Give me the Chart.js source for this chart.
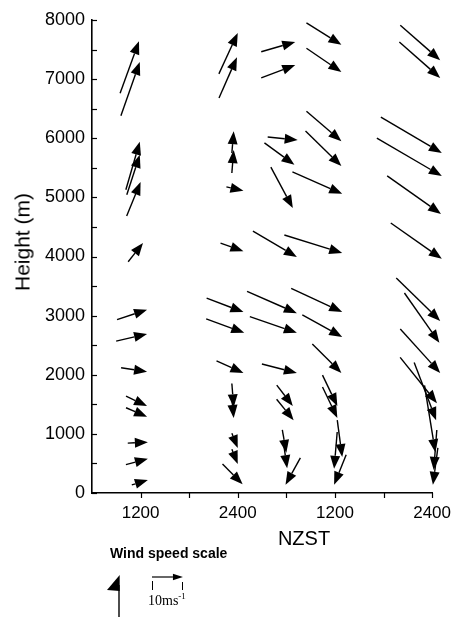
<!DOCTYPE html>
<html>
<head>
<meta charset="utf-8">
<script src="https://cdn.jsdelivr.net/npm/chart.js@4"></script>
<style>
  body { margin: 0; background: #fff; }
  #wrap { position: relative; width: 461px; height: 617px; }
  .lbl { position: absolute; font-family: 'Liberation Sans', Arial, sans-serif; color: #000; line-height: 1; white-space: nowrap; }
</style>
</head>
<body>
<div id="wrap">
  <canvas id="windChart"></canvas>
  <div class="lbl" style="left:22px;top:242px;font-size:21px;transform:translate(-50%,-50%) rotate(-90deg);">Height (m)</div>
  <div class="lbl" style="left:304px;top:538px;font-size:20px;transform:translate(-50%,-50%);">NZST</div>
  <div class="lbl" style="left:110px;top:546px;font-size:14px;font-weight:bold;">Wind speed scale</div>
  <div class="lbl" style="left:148px;top:594px;font-size:14px;font-family:'Liberation Serif',serif;">10ms<span style="font-size:9px;position:relative;top:-6px;">-1</span></div>
</div>
<script>
// time axis is hours from the start of day 1 (NZST)
const tickHours = [12, 24, 36, 48];
const tickLabels = ['1200', '2400', '1200', '2400'];

// arrow tip position: time (h) and height (m), one entry per sounding level
const tipTime = [
    11.8, 11.9, 11.9, 11.9, 12.0, 12.3, 12.8, 12.8, 12.8, 12.8, 12.8, 12.9, 12.9, 12.9,
    24.0, 23.9, 23.5, 23.5, 24.7, 24.7, 24.7, 24.8, 24.7, 23.5, 23.5, 24.0, 24.0, 24.6,
    31.1, 31.1, 31.4, 31.0, 30.8, 31.3, 31.3, 31.3, 31.3, 30.8, 30.9, 30.0, 30.1, 29.9,
    36.8, 36.8, 36.8, 36.8, 36.9, 36.9, 36.9, 36.9, 36.8, 36.3, 36.3, 36.9, 35.9, 35.9,
    49.0, 49.0, 49.2, 49.2, 49.1, 49.2, 49.0, 48.9, 49.0, 48.6, 48.5, 48.4, 48.2, 48.1
];
const tipHeight = [
    7640, 7290, 5940, 5720, 5260, 4230, 3100, 2690, 2050, 1470, 1290, 860, 580, 220,
    7780, 7370, 6120, 5800, 5110, 4090, 3060, 2710, 2030, 1450, 1270, 760, 490, 150,
    7630, 7240, 5970, 5550, 4820, 3990, 3040, 2710, 2030, 1470, 1230, 680, 420, 140,
    7580, 7120, 5950, 5530, 5060, 4060, 3060, 2640, 2030, 1470, 1270, 610, 410, 140,
    7320, 7020, 5750, 5360, 4720, 3960, 2910, 2540, 2030, 1520, 1230, 690, 390, 140
];
// wind components (m/s), u towards east (right), v towards north (up)
const windU = [
    6.1, 6.1, 4.5, 4.2, 4.5, 4.8, 9.7, 10.0, 8.4, 6.8, 6.8, 6.5, 7.1, 5.2,
    6.1, 5.8, 0.6, 0.6, 5.5, 7.4, 11.9, 12.3, 8.7, 0.6, 0.6, 1.9, 1.9, 6.5,
    11.0, 11.0, 9.7, 9.7, 7.1, 14.2, 16.1, 15.2, 11.3, 5.2, 5.5, 1.3, 1.3, -4.8,
    11.3, 11.3, 11.3, 11.6, 16.1, 18.7, 16.5, 12.9, 9.4, 4.8, 4.8, 1.6, -1.0, -3.9,
    12.9, 13.2, 19.7, 21.0, 17.4, 16.5, 14.2, 11.3, 12.9, 11.9, 7.1, 3.5, -1.0, -1.6
];
const windV = [
    16.8, 17.4, 15.5, 12.9, 11.0, 6.1, 3.2, 2.3, -1.3, -3.2, -2.9, 0.3, 1.9, 1.6,
    13.2, 13.2, 7.1, 7.4, -1.3, -2.6, -4.5, -4.5, -3.9, -7.7, -6.5, -4.8, -4.8, -6.5,
    3.2, 4.2, -1.0, -7.1, -13.2, -8.4, -7.1, -5.2, -2.9, -6.8, -6.8, -7.4, -9.0, -8.7,
    -7.1, -7.7, -9.7, -11.3, -7.1, -5.8, -7.7, -7.1, -9.4, -10.0, -10.0, -11.9, -11.9, -9.7,
    -11.3, -11.6, -11.6, -12.3, -12.3, -11.6, -13.9, -16.1, -14.2, -14.8, -18.7, -21.6, -12.9, -11.9
];

// 10 m/s is drawn as long as 3.82 h of the time axis
const SCALE_SPEED = 10;
const SCALE_HOURS = 3.82;

function drawArrow(ctx, x0, y0, x1, y1, headLen, headHalf) {
    const a = Math.atan2(y1 - y0, x1 - x0);
    const bx = x1 - headLen * Math.cos(a);
    const by = y1 - headLen * Math.sin(a);
    ctx.beginPath();
    ctx.moveTo(x0, y0);
    ctx.lineTo(bx, by);
    ctx.stroke();
    ctx.beginPath();
    ctx.moveTo(x1, y1);
    ctx.lineTo(bx + headHalf * Math.sin(a), by - headHalf * Math.cos(a));
    ctx.lineTo(bx - headHalf * Math.sin(a), by + headHalf * Math.cos(a));
    ctx.closePath();
    ctx.fill();
}

const windArrows = {
    id: 'windArrows',
    afterDraw(chart) {
        const ctx = chart.ctx;
        const xs = chart.scales.x;
        const ys = chart.scales.y;
        const area = chart.chartArea;
        const pxPerMs = (xs.getPixelForValue(xs.min + SCALE_HOURS) - xs.getPixelForValue(xs.min)) / SCALE_SPEED;

        ctx.save();
        ctx.strokeStyle = '#000';
        ctx.fillStyle = '#000';

        // inward ticks on the height axis, outward ticks on the time axis
        ctx.lineWidth = 1.2;
        for (let h = 0; h <= 8000; h += 500) {
            const y = Math.round(ys.getPixelForValue(h)) + 0.5;
            ctx.beginPath();
            ctx.moveTo(area.left, y);
            ctx.lineTo(area.left + 5, y);
            ctx.stroke();
        }
        for (let t = 12; t <= 48; t += 6) {
            const x = Math.round(xs.getPixelForValue(t)) + 0.5;
            ctx.beginPath();
            ctx.moveTo(x, area.bottom);
            ctx.lineTo(x, area.bottom + 5);
            ctx.stroke();
        }

        // wind vectors
        ctx.lineWidth = 1.4;
        chart.getDatasetMeta(0).data.forEach((p, i) => {
            const x0 = p.x - windU[i] * pxPerMs;
            const y0 = p.y + windV[i] * pxPerMs;
            drawArrow(ctx, x0, y0, p.x, p.y, 13, 5);
        });

        // wind speed scale
        const sx = 152, sy = 577;
        const ex = sx + SCALE_SPEED * pxPerMs;
        ctx.lineWidth = 1.2;
        drawArrow(ctx, sx, sy, ex, sy, 10, 3.2);
        ctx.lineWidth = 1;
        ctx.beginPath();
        ctx.moveTo(sx + 0.5, 581); ctx.lineTo(sx + 0.5, 590);
        ctx.moveTo(Math.round(ex) - 0.5, 582); ctx.lineTo(Math.round(ex) - 0.5, 590);
        ctx.stroke();

        // north pointer
        ctx.lineWidth = 1.4;
        ctx.beginPath();
        ctx.moveTo(119, 585); ctx.lineTo(119, 617);
        ctx.stroke();
        ctx.beginPath();
        ctx.moveTo(119.7, 575); ctx.lineTo(119.7, 591); ctx.lineTo(107, 590);
        ctx.closePath();
        ctx.fill();

        ctx.restore();
    }
};

const tickFont = { family: "'Liberation Sans', Arial, sans-serif" };

new Chart(document.getElementById('windChart'), {
    type: 'scatter',
    data: {
        datasets: [{
            data: tipTime.map((t, i) => ({ x: t, y: tipHeight[i] })),
            pointRadius: 0,
            clip: false
        }]
    },
    options: {
        responsive: true,
        maintainAspectRatio: false,
        animation: false,
        devicePixelRatio: 1,
        layout: { padding: { top: 20, right: 28, left: 0, bottom: 0 } },
        plugins: { legend: { display: false }, tooltip: { enabled: false } },
        scales: {
            x: {
                type: 'linear',
                min: 6,
                max: 48,
                grid: { display: false, drawTicks: false },
                border: { display: true, color: '#000', width: 1.6 },
                afterBuildTicks: s => { s.ticks = tickHours.map(v => ({ value: v })); },
                afterFit: s => { s.height = 124; },
                ticks: {
                    autoSkip: false,
                    maxRotation: 0,
                    padding: 10,
                    color: '#000',
                    font: { ...tickFont, size: 17 },
                    callback: v => tickLabels[tickHours.indexOf(v)] || ''
                }
            },
            y: {
                min: 0,
                max: 8000,
                grid: { display: false, drawTicks: false },
                border: { display: true, color: '#000', width: 1.6 },
                afterFit: s => { s.width = 92; },
                ticks: {
                    stepSize: 1000,
                    padding: 7,
                    color: '#000',
                    font: { ...tickFont, size: 18 },
                    callback: v => String(v)
                }
            }
        }
    },
    plugins: [windArrows]
});
</script>
</body>
</html>
